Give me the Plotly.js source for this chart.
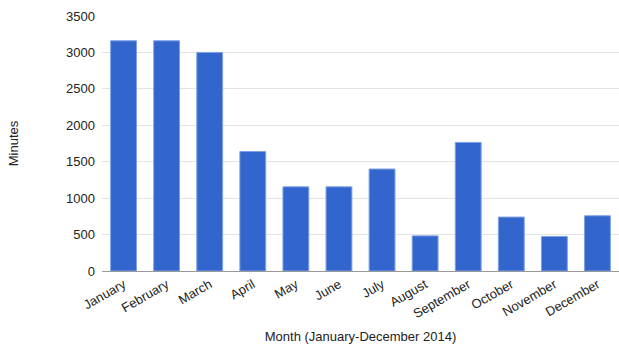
<!DOCTYPE html>
<html>
<head>
<meta charset="utf-8">
<script src="https://cdn.plot.ly/plotly-3.0.1.min.js"></script>
<style>html,body{margin:0;padding:0;background:#fff;}#chart{width:619px;height:346px;}</style>
</head>
<body>
<div id="chart"></div>
<script>
const months = ["January","February","March","April","May","June","July","August","September","October","November","December"];
const minutes = [3160, 3160, 3000, 1640, 1155, 1155, 1400, 482, 1765, 740, 474, 758];
const yTicks = [0, 500, 1000, 1500, 2000, 2500, 3000, 3500];

const trace = {
  type: "bar",
  x: months,
  y: minutes,
  width: 0.6,
  marker: { color: "#3366cc", line: { color: "#7fa0e6", width: 1 } },
  hoverinfo: "x+y"
};

const layout = {
  width: 619,
  height: 346,
  margin: { l: 102, r: 0, t: 16, b: 75 },
  paper_bgcolor: "#ffffff",
  plot_bgcolor: "#ffffff",
  font: { family: "Liberation Sans, Arial, sans-serif", size: 13, color: "#222222" },
  showlegend: false,
  bargap: 0.4,
  xaxis: {
    type: "category",
    range: [-0.5, 11.5],
    tickangle: -30,
    ticks: "",
    showgrid: false,
    showline: true,
    linecolor: "#999999",
    linewidth: 1,
    tickfont: { size: 13, color: "#222222" },
    title: { text: "Month (January-December 2014)", font: { size: 13, color: "#222222" }, standoff: 11 },
    automargin: false
  },
  yaxis: {
    range: [0, 3500],
    tickvals: yTicks,
    ticktext: yTicks.map(String),
    ticks: "",
    showgrid: true,
    gridcolor: "#e3e3e3",
    gridwidth: 1,
    zeroline: false,
    showline: false,
    ticklabelstandoff: 6,
    tickfont: { size: 13, color: "#222222" },
    title: { text: "Minutes", font: { size: 13, color: "#222222" }, standoff: 44 },
    automargin: false
  }
};

Plotly.newPlot("chart", [trace], layout, { displayModeBar: false, staticPlot: true });
</script>
</body>
</html>
